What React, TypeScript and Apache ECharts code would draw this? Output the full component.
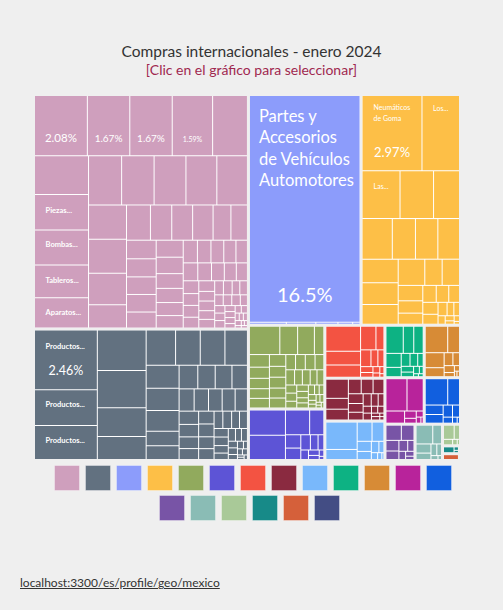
import React, { useEffect, useRef } from 'react';
import * as echarts from 'echarts';

const FONT = "Lato, 'DejaVu Sans Condensed', sans-serif";

const TITLE = 'Compras internacionales - enero 2024';
const SUBTITLE = '[Clic en el gráfico para seleccionar]';
const SOURCE_LINK = 'localhost:3300/es/profile/geo/mexico';

const groupNames = [
  'Máquinas', 'Metales', 'Transporte', 'Plásticos y Cauchos', 'Productos Químicos',
  'Instrumentos', 'Productos Minerales', 'Textiles', 'Productos Vegetales', 'Alimentos',
  'Papel', 'Productos Animales', 'Misceláneos', 'Piedras y Vidrio', 'Calzado y Accesorios',
  'Productos de Madera', 'Pieles y Cueros', 'Metales Preciosos', 'Obras de Arte',
];

const groupColors = [
  '#cf9fbd', '#627180', '#8c9cfb', '#fdbf47', '#91aa5d',
  '#5d54d6', '#f35342', '#8a2a40', '#79b8fb', '#0db283',
  '#d78b36', '#b8239b', '#115fdf', '#7854a6', '#8abcb5',
  '#a9c998', '#178a88', '#d5603a', '#434d84',
];

// shares of total purchases (%) per product, by group
const maquinasValues = [
  2.08, 1.67, 1.67, 1.59, 1.37, 1.36, 1.25, 1.24, 1.15, 1.07,
  1.06, 1.04, 1.02, 0.99, 0.98, 0.85, 0.84, 0.78, 0.58, 0.55,
  0.49, 0.48, 0.47, 0.41, 0.38, 0.36, 0.35, 0.34, 0.34, 0.31,
  0.30, 0.29, 0.26, 0.25, 0.23, 0.22, 0.21, 0.20, 0.19, 0.18,
  0.17, 0.17, 0.16, 0.15, 0.14, 0.13, 0.13, 0.12, 0.12, 0.11,
  0.11, 0.10, 0.10, 0.09, 0.09, 0.08, 0.08, 0.07, 0.07, 0.06,
  0.06, 0.06, 0.05, 0.05, 0.05, 0.05, 0.04, 0.04, 0.04, 0.03,
  0.03, 0.03, 0.02, 0.02, 0.02, 0.02, 0.01, 0.01, 0.01, 0.01,
];
const metalesValues = [
  2.46, 1.48, 1.40, 1.30, 1.19, 0.92, 0.74, 0.68, 0.57, 0.57,
  0.52, 0.50, 0.48, 0.45, 0.31, 0.30, 0.29, 0.27, 0.26, 0.24,
  0.22, 0.21, 0.20, 0.19, 0.18, 0.17, 0.16, 0.15, 0.14, 0.13,
  0.13, 0.12, 0.11, 0.10, 0.10, 0.09, 0.09, 0.08, 0.08, 0.07,
  0.06, 0.06, 0.05, 0.05, 0.04, 0.04, 0.03, 0.03, 0.02, 0.02,
  0.02, 0.01, 0.01, 0.01,
];
const transporteValues = [16.5, 0.05, 0.04, 0.03, 0.02, 0.01];
const plasticosValues = [
  2.97, 1.86, 1.20, 1.06, 0.82, 0.81, 0.62, 0.60, 0.58, 0.56,
  0.52, 0.47, 0.46, 0.30, 0.30, 0.25, 0.20, 0.18, 0.15, 0.14,
  0.12, 0.12, 0.10, 0.08, 0.06, 0.05, 0.04, 0.03, 0.02, 0.02, 0.01,
];
const quimicosValues = [
  0.58, 0.34, 0.32, 0.18, 0.17, 0.15, 0.14, 0.13, 0.13, 0.13,
  0.12, 0.12, 0.11, 0.11, 0.10, 0.10, 0.10, 0.09, 0.09, 0.08,
  0.08, 0.07, 0.07, 0.06, 0.06, 0.05, 0.05, 0.05, 0.04, 0.04,
  0.04, 0.03, 0.03, 0.03, 0.02, 0.02, 0.02, 0.02, 0.01, 0.01, 0.01,
];
const instrumentosValues = [0.62, 0.60, 0.41, 0.24, 0.14, 0.12, 0.10, 0.08, 0.06, 0.05, 0.04, 0.03, 0.02, 0.01];
const mineralesValues = [0.60, 0.33, 0.29, 0.25, 0.13, 0.12, 0.08, 0.07, 0.05, 0.04, 0.03, 0.02, 0.02, 0.01];
const textilesValues = [0.30, 0.17, 0.17, 0.13, 0.12, 0.11, 0.10, 0.09, 0.08, 0.07, 0.06, 0.05, 0.04, 0.04, 0.03, 0.03, 0.02, 0.02, 0.01, 0.01];
const vegetalesValues = [0.60, 0.22, 0.20, 0.16, 0.10, 0.08, 0.06, 0.04, 0.03, 0.02, 0.01];
const alimentosValues = [0.33, 0.20, 0.18, 0.15, 0.10, 0.08, 0.07, 0.05, 0.05, 0.04, 0.03, 0.02, 0.01, 0.01];
const papelValues = [0.42, 0.22, 0.20, 0.12, 0.08, 0.06, 0.05, 0.03, 0.02, 0.01, 0.01];
const animalesValues = [0.48, 0.37, 0.16, 0.06, 0.04, 0.03, 0.02, 0.01];
const miscelaneosValues = [0.42, 0.22, 0.12, 0.11, 0.08, 0.06, 0.04, 0.02, 0.01];
const piedrasValues = [0.17, 0.14, 0.10, 0.08, 0.07, 0.05, 0.04, 0.03, 0.02];
const calzadoValues = [0.23, 0.12, 0.10, 0.07, 0.05, 0.04, 0.02, 0.01];
const maderaValues = [0.12, 0.06, 0.04, 0.02, 0.01];
const pielesValues = [0.06, 0.015, 0.01];
const preciososValues = [0.074];
const arteValues = [0.01];

const groupValues = [
  maquinasValues, metalesValues, transporteValues, plasticosValues, quimicosValues,
  instrumentosValues, mineralesValues, textilesValues, vegetalesValues, alimentosValues,
  papelValues, animalesValues, miscelaneosValues, piedrasValues, calzadoValues,
  maderaValues, pielesValues, preciososValues, arteValues,
];

// texts visible on tiles (by group, by product rank)
const maquinasTags = ['', '', '', '', '', '', 'Piezas...', 'Bombas...', 'Tableros...', 'Aparatos...'];
const metalesTags = ['Productos...', 'Productos...', 'Productos...'];
const transporteTags = ['Partes y Accesorios de Vehículos Automotores'];
const plasticosTags = ['Neumáticos de Goma', 'Los...', 'Las...'];

const groupTags: Record<number, string[]> = { 0: maquinasTags, 1: metalesTags, 2: transporteTags, 3: plasticosTags };

type Spec = {
  wrap?: number;
  nameSize?: number;
  nameLH?: number;
  nameLeft?: number;
  nameWeight?: string;
  padTop?: number;
  gap?: number;
  pctSize?: number;
  pctLH?: number;
};

// label styling (layout of the texts inside their tiles)
const labelStyles: Record<string, Spec> = {
  '0-0': { gap: 34.5, pctSize: 11.5, pctLH: 13 },
  '0-1': { gap: 36.5, pctSize: 10, pctLH: 11 },
  '0-2': { gap: 36.5, pctSize: 10, pctLH: 11 },
  '0-3': { gap: 39, pctSize: 7, pctLH: 8 },
  '0-6': { nameSize: 7.5, nameLH: 31, nameLeft: 10.5, nameWeight: 'bold' },
  '0-7': { nameSize: 7.5, nameLH: 28, nameLeft: 10.5, nameWeight: 'bold' },
  '0-8': { nameSize: 7.5, nameLH: 29, nameLeft: 10.5, nameWeight: 'bold' },
  '0-9': { nameSize: 7.5, nameLH: 28, nameLeft: 10.5, nameWeight: 'bold' },
  '1-0': { nameSize: 7.5, nameLH: 31, nameLeft: 10.5, nameWeight: 'bold', pctSize: 12.5, pctLH: 17 },
  '1-1': { nameSize: 7.5, nameLH: 28, nameLeft: 10.5, nameWeight: 'bold' },
  '1-2': { nameSize: 7.5, nameLH: 28, nameLeft: 10.5, nameWeight: 'bold' },
  '2-0': { wrap: 12, nameSize: 16.5, nameLH: 21.5, nameLeft: 9, nameWeight: 'normal', padTop: 9, gap: 92, pctSize: 20, pctLH: 22 },
  '3-0': { wrap: 10, nameSize: 7, nameLH: 10.5, nameLeft: 11, nameWeight: 'normal', padTop: 6, gap: 21, pctSize: 13, pctLH: 15 },
  '3-1': { nameSize: 7, nameLH: 24.6, nameLeft: 10.6, nameWeight: 'normal' },
  '3-2': { nameSize: 7, nameLH: 30, nameLeft: 11, nameWeight: 'normal' },
};

function wrapWords(text: string, max?: number): string[] {
  if (!text) return [];
  if (!max) return [text];
  const out: string[] = [];
  let cur = '';
  text.split(' ').forEach((w) => {
    const next = cur ? cur + ' ' + w : w;
    if (next.length > max && cur) {
      out.push(cur);
      cur = w;
    } else {
      cur = next;
    }
  });
  if (cur) out.push(cur);
  return out;
}

function buildLabel(gi: number, li: number): any {
  const spec = labelStyles[`${gi}-${li}`];
  if (!spec) return undefined;
  const tag = (groupTags[gi] || [])[li] || '';
  const lines = wrapWords(tag, spec.wrap);
  return {
    show: true,
    position: 'insideTopLeft',
    distance: 0,
    padding: [spec.padTop || 0, 0, 0, 0],
    formatter: (p: any) => {
      const parts = lines.map((l) => `{n|${l}}`);
      if (spec.pctSize) {
        if (spec.gap) parts.push('{s| }');
        parts.push(`{p|${p.value}%}`);
      }
      return parts.join('\n');
    },
    rich: {
      n: {
        fontFamily: FONT,
        fontSize: spec.nameSize || 9,
        fontWeight: spec.nameWeight || 'bold',
        color: '#ffffff',
        lineHeight: spec.nameLH || 12,
        padding: [0, 0, 0, spec.nameLeft || 0],
      },
      s: { fontSize: 1, lineHeight: spec.gap || 1 },
      p: {
        fontFamily: FONT,
        fontSize: spec.pctSize || 12,
        color: '#ffffff',
        lineHeight: spec.pctLH || 14,
        align: 'center',
      },
    },
  };
}

export default function App() {
  const ref = useRef<HTMLDivElement>(null);

  useEffect(() => {
    if (!ref.current) return;
    const chart = echarts.init(ref.current, undefined, { renderer: 'svg' });

    const data = groupNames.map((g, gi) => ({
      name: g,
      itemStyle: { color: groupColors[gi] },
      children: groupValues[gi].map((v, li) => {
        const tag = (groupTags[gi] || [])[li];
        const node: any = { name: tag ? `${tag} (${g} ${li + 1})` : `${g} ${li + 1}`, value: v };
        const label = buildLabel(gi, li);
        if (label) node.label = label;
        return node;
      }),
    }));

    const legendBase = {
      itemWidth: 25,
      itemHeight: 25,
      itemGap: 5,
      icon: 'rect',
      padding: 0,
      selectedMode: false,
      formatter: () => '',
      itemStyle: { borderWidth: 1, borderColor: 'rgba(255,255,255,0.35)' },
    };

    chart.setOption({
      animation: false,
      backgroundColor: '#efefef',
      textStyle: { fontFamily: FONT },
      title: {
        text: TITLE,
        subtext: SUBTITLE,
        left: 'center',
        top: 38,
        itemGap: 3,
        textStyle: { fontFamily: FONT, fontSize: 15.5, fontWeight: 'normal', color: '#333333' },
        subtextStyle: { fontFamily: FONT, fontSize: 14, color: '#a0284f' },
      },
      legend: [
        { ...legendBase, data: groupNames.slice(0, 13), left: 54, top: 465 },
        { ...legendBase, data: groupNames.slice(13), left: 159, top: 495 },
      ],
      series: [
        {
          type: 'treemap',
          left: 35,
          top: 96,
          width: 424,
          height: 363,
          roam: false,
          nodeClick: false,
          breadcrumb: { show: false },
          visibleMin: 0,
          label: { show: false },
          upperLabel: { show: false },
          levels: [
            { itemStyle: { borderWidth: 0, gapWidth: 3, borderColor: '#efefef' } },
            { itemStyle: { borderWidth: 0, gapWidth: 1, borderColor: '#ffffff' } },
            { itemStyle: { borderWidth: 0, gapWidth: 0 } },
          ],
          data,
        },
        {
          type: 'pie',
          radius: [0, 0],
          silent: true,
          label: { show: false },
          labelLine: { show: false },
          data: groupNames.map((n, i) => ({ name: n, value: 1, itemStyle: { color: groupColors[i] } })),
        },
      ],
    });

    return () => chart.dispose();
  }, []);

  return (
    <div style={{ position: 'fixed', left: 0, top: 0, width: 503, height: 610, background: '#efefef' }}>
      <div ref={ref} style={{ position: 'absolute', left: 0, top: 0, width: 503, height: 610 }} />
      <a
        href="#"
        style={{
          position: 'absolute',
          left: 20,
          top: 575,
          fontFamily: FONT,
          fontSize: 12,
          color: '#333333',
          textDecoration: 'underline',
        }}
      >
        {SOURCE_LINK}
      </a>
    </div>
  );
}
